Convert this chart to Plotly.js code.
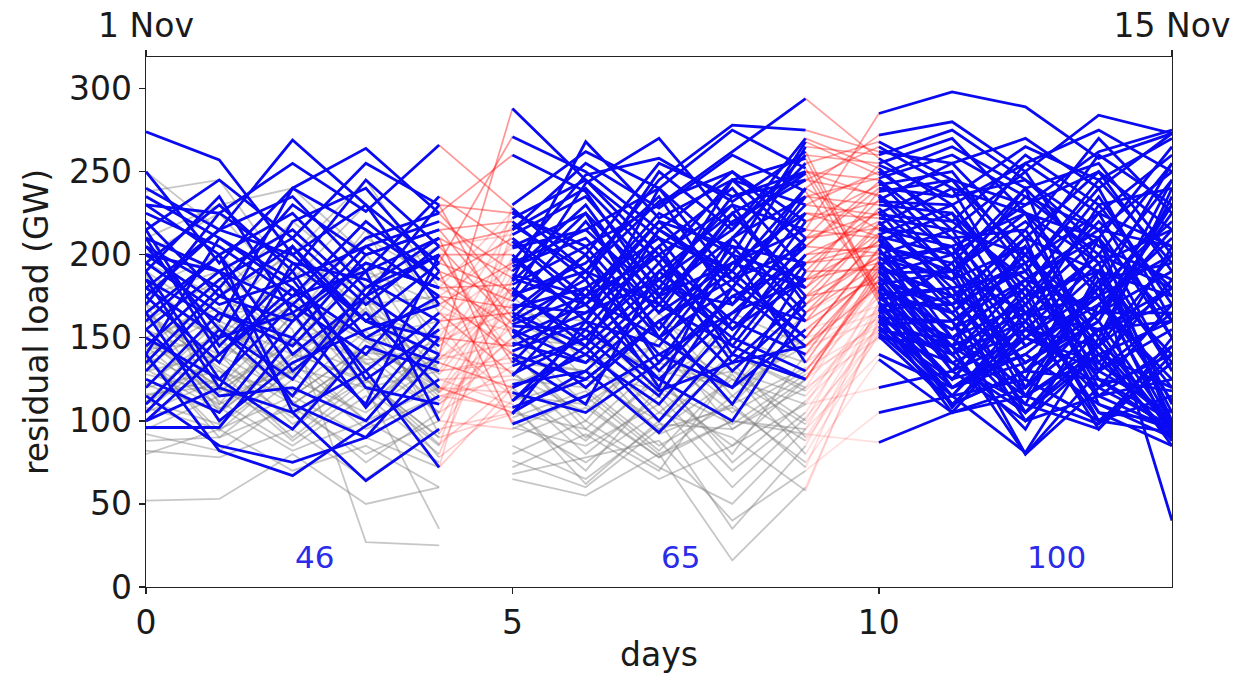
<!DOCTYPE html>
<html><head><meta charset="utf-8">
<script src="https://cdn.plot.ly/plotly-3.0.1.min.js"></script>
<style>html,body{margin:0;padding:0;background:#fff}#chart{width:1236px;height:674px}</style>
</head><body><div id="chart"></div>
<script>
const days = [0,1,2,3,4,5,6,7,8,9,10,11,12,13,14];
const dateTickDays = [0,14];
const dateLabels = ['1 Nov','15 Nov'];
const xTicks = [0,5,10];
const yTicks = [0,50,100,150,200,250,300];

// residual load (GW) per scenario, days 0-4
const week1Load = [
[274,257,200,160,140],[240,215,269,230,195],[250,195,240,264,225],[230,225,255,226,266],[215,245,210,255,230],
[205,180,230,200,215],[195,230,190,245,205],[185,160,240,215,185],[225,205,175,190,235],[210,190,215,175,200],
[175,215,200,230,170],[200,170,185,205,220],[165,200,225,180,210],[190,235,165,195,180],[220,175,205,160,195],
[155,190,170,210,225],[180,150,220,240,190],[235,210,180,150,175],[170,225,195,185,160],[195,165,150,200,215],
[145,185,210,170,205],[210,140,175,220,185],[160,200,140,175,230],[185,120,195,160,150],[130,175,160,205,175],
[205,155,125,180,200],[140,210,185,130,165],[175,135,205,150,135],[120,165,145,190,210],[200,190,130,165,120],
[150,125,170,140,190],[110,155,115,175,145],[215,145,190,125,155],[125,105,160,195,180],[100,140,180,120,110],
[165,100,135,155,170],[96,96,150,110,200],[190,125,95,145,130],[135,180,110,90,140],[115,85,75,90,115],
[100,120,105,130,72],[155,115,120,100,150],[140,82,67,97,125],[230,200,105,64,95],[105,150,165,108,160],
[180,215,235,190,100],[250,215,200,245,180],[238,245,185,230,165],[210,230,240,200,150],[195,175,220,185,205],
[180,200,160,215,140],[170,150,190,170,175],[160,185,145,195,130],[155,135,175,150,160],[150,168,128,182,118],
[122,152,163,134,148],[139,118,147,166,128],[163,132,102,141,137],[111,157,134,168,117],[147,121,163,108,148],
[134,158,126,173,92],[128,117,151,137,138],[139,163,172,148,117],[116,121,147,129,165],[143,148,118,154,112],
[131,107,141,123,137],[106,140,115,145,110],[138,94,132,120,130],[165,135,110,140,105],[122,105,138,172,125],
[130,140,98,125,86],[188,110,135,100,120],[115,125,95,130,78],[112,98,130,95,115],[120,130,90,125,90],
[108,95,115,90,72],[105,125,88,120,85],[92,82,112,75,105],[150,112,85,115,80],[88,90,108,80,100],
[145,108,82,100,75],[82,78,95,65,95],[80,95,70,85,60],[52,53,80,50,60],[160,140,170,120,35],
[175,190,155,27,25],[190,160,205,165,150],[200,225,175,210,185],[145,175,200,160,195],[135,110,165,190,170],
[165,130,115,145,120],[120,160,140,100,155],[185,145,125,175,130],[110,140,170,135,105],[150,120,95,150,115],
[130,175,150,110,140],[95,115,130,165,100],[170,105,140,125,90],[105,150,110,140,175],[140,90,125,105,135]
];

// days 5-9
const week2Load = [
[288,245,200,230,215],[271,250,215,190,240],[260,238,176,210,255],[228,190,245,278,275],[225,205,230,262,294],
[220,185,250,215,260],[215,240,195,245,230],[210,175,225,200,268],[205,225,180,235,250],[200,160,215,250,220],
[195,215,240,185,205],[190,230,170,220,245],[186,170,205,240,190],[182,205,155,210,235],[178,150,190,225,180],
[175,195,235,170,210],[172,220,165,195,225],[168,180,210,155,200],[165,145,185,230,170],[162,200,150,180,240],
[158,175,220,205,160],[155,135,175,195,215],[150,190,140,165,185],[145,165,200,145,200],[140,125,160,190,150],
[135,180,130,175,195],[128,150,195,135,175],[120,140,110,160,140],[112,155,125,100,165],[105,130,93,140,125],
[98,115,140,120,155],[180,150,130,120,165],[170,125,160,140,120],[160,140,110,165,145],[150,110,140,105,130],
[145,155,120,130,100],[140,100,150,95,125],[135,130,95,125,110],[130,90,125,80,140],[125,120,85,110,72],
[120,80,115,70,105],[115,110,78,100,95],[110,62,100,35,85],[105,95,70,130,115],[100,75,105,90,58],
[95,115,80,16,60],[226,200,255,235,245],[222,245,210,190,265],[218,190,232,250,210],[212,235,185,215,270],
[208,170,220,180,235],[204,215,175,245,205],[198,160,240,200,185],[193,210,165,225,250],[188,175,200,160,220],
[184,225,150,205,195],[180,145,215,185,230],[176,190,170,225,175],[170,165,185,150,210],[166,200,135,195,180],
[163,140,180,170,225],[160,185,120,210,165],[157,155,205,140,195],[154,120,160,185,150],[150,170,125,165,205],
[147,135,175,130,170],[142,160,145,200,135],[138,110,190,155,185],[133,150,115,180,145],[127,175,150,120,190],
[122,130,170,145,125],[117,105,135,175,160],[112,145,100,150,130],[108,125,160,110,175],[104,160,118,135,145],
[230,262,240,275,252],[215,255,228,260,238],[196,248,258,232,262],[185,268,222,245,258],[176,243,270,218,249],
[175,135,145,110,155],[165,160,125,150,135],[155,120,165,115,150],[150,145,105,140,118],[142,95,135,120,145],
[138,130,118,85,125],[128,105,150,125,98],[122,140,92,110,132],[118,88,128,75,112],[112,125,100,135,90],
[108,70,120,98,128],[102,118,82,128,80],[96,85,110,60,102],[90,108,78,115,88],[85,65,98,95,120],
[80,100,72,50,95],[76,60,95,108,75],[72,92,65,85,110],[68,78,88,40,70],[65,55,80,100,92]
];

// days 10-14
const week3Load = [
[285,298,289,258,273],[272,280,250,284,273],[268,245,230,262,275],[262,255,270,240,273],[258,230,255,275,250],
[255,270,225,210,265],[250,220,260,230,240],[248,265,240,255,200],[245,210,215,270,225],[242,250,195,225,260],
[240,235,245,205,185],[236,200,230,250,215],[233,255,210,190,245],[230,225,180,235,170],[228,190,235,215,205],
[225,245,200,160,230],[222,215,250,185,140],[220,180,190,245,195],[218,240,165,200,255],[215,205,225,175,120],
[212,230,175,220,180],[210,170,215,150,235],[208,225,155,195,100],[205,195,240,130,165],[203,160,185,210,95],
[200,215,145,170,210],[198,185,205,140,90],[196,150,170,225,150],[194,205,130,180,220],[192,175,195,120,97],
[190,140,160,200,130],[188,200,120,165,190],[186,165,210,110,95],[184,130,150,190,175],[182,190,115,145,85],
[180,155,180,100,115],[178,120,140,175,200],[176,180,105,155,92],[174,145,165,95,140],[172,110,130,160,245],
[170,170,100,140,88],[168,135,155,120,170],[166,195,120,185,40],[164,125,170,105,100],[162,160,80,130,155],
[160,115,81,150,95],[265,240,225,195,215],[260,275,245,215,250],[254,235,265,245,270],[252,215,200,260,230],
[246,260,235,200,180],[244,200,255,225,205],[238,245,190,240,160],[235,190,220,180,255],[232,230,170,210,130],
[226,175,210,250,190],[224,220,185,165,225],[219,185,240,195,110],[216,210,160,230,175],[213,165,200,145,240],
[211,200,145,175,98],[209,150,185,215,150],[206,190,225,135,185],[204,140,175,190,105],[201,185,135,165,215],
[199,160,195,115,125],[197,205,150,180,90],[195,130,180,145,200],[193,175,125,210,160],[191,145,205,125,94],
[189,190,165,155,180],[187,135,110,190,135],[185,170,190,130,205],[183,120,145,175,112],[181,155,200,150,96],
[179,108,160,115,145],[177,165,115,185,195],[175,140,185,125,100],[173,180,135,165,165],[171,125,175,105,85],
[169,150,105,140,120],[167,115,165,175,230],[165,175,125,100,93],[163,105,155,145,180],[161,145,80,120,140],
[160,120,135,160,97],[158,160,110,95,150],[157,110,150,130,105],[156,140,95,170,125],[155,125,140,110,90],
[154,150,120,155,160],[153,115,160,100,135],[152,135,105,145,95],[151,110,130,125,118],[150,145,115,98,145],
[140,120,150,135,100],[137,105,120,155,170],[120,130,100,115,95],[105,115,125,100,135],[87,105,115,140,160]
];

// scenarios selected (drawn blue) in each window
const selectedWeek1 = [0,1,2,3,4,5,6,7,8,9,10,11,12,13,14,15,16,17,18,19,20,21,22,23,24,25,26,27,28,29,30,31,32,33,34,35,36,37,38,39,40,41,42,43,44,45];
const selectedWeek2 = [0,1,2,3,4,5,6,7,8,9,10,11,12,13,14,15,16,17,18,19,20,21,22,23,24,25,26,27,28,29,30,
  46,47,48,49,50,51,52,53,54,55,56,57,58,59,60,61,62,63,64,65,66,67,68,69,70,71,72,73,74,75,76,77,78,79];
const selectedWeek3 = week3Load.map((_, i) => i);

const w1Days = days.slice(0,5), w2Days = days.slice(5,10), w3Days = days.slice(10,15);
const sel1 = new Set(selectedWeek1), sel2 = new Set(selectedWeek2);
const BLUE = 'rgb(10,10,242)';
const traces = [];

function addGrey(dArr, rows, sel) {
  rows.forEach((r, i) => {
    if (!sel.has(i)) traces.push({x: dArr, y: r, mode: 'lines', type: 'scatter',
      line: {color: 'rgba(128,128,128,0.45)', width: 1.8}, hoverinfo: 'skip', showlegend: false});
  });
}
addGrey(w1Days, week1Load, sel1);
addGrey(w2Days, week2Load, sel2);

// red transitions between windows
week1Load.forEach((r, i) => {
  const k = (sel1.has(i) ? 1 : 0) + (sel2.has(i) ? 1 : 0);
  if (k === 0) return;
  const a = [0, 0.22, 0.45][k];
  traces.push({x: [days[4], days[5]], y: [r[4], week2Load[i][0]], mode: 'lines', type: 'scatter',
    line: {color: 'rgba(255,20,20,' + a + ')', width: 1.7}, hoverinfo: 'skip', showlegend: false});
});
week2Load.forEach((r, i) => {
  const a = sel2.has(i) ? 0.42 : 0.14;
  traces.push({x: [days[9], days[10]], y: [r[4], week3Load[i][0]], mode: 'lines', type: 'scatter',
    line: {color: 'rgba(255,20,20,' + a + ')', width: 1.7}, hoverinfo: 'skip', showlegend: false});
});

function addBlue(dArr, rows, selList) {
  const x = [], y = [];
  selList.forEach(i => { x.push(...dArr, null); y.push(...rows[i], null); });
  traces.push({x, y, mode: 'lines', type: 'scatter', connectgaps: false,
    line: {color: BLUE, width: 2.8}, hoverinfo: 'skip', showlegend: false});
}
addBlue(w1Days, week1Load, selectedWeek1);
addBlue(w2Days, week2Load, selectedWeek2);
addBlue(w3Days, week3Load, selectedWeek3);

// carrier for the top date axis
traces.push({x: dateTickDays, y: [null, null], xaxis: 'x2', mode: 'lines', type: 'scatter', showlegend: false, hoverinfo: 'skip'});

const countLabels = [String(selectedWeek1.length), String(selectedWeek2.length), String(selectedWeek3.length)];
const labelDays = [days[2], days[7], days[12]];

const FONT = {family: 'DejaVu Sans, sans-serif', size: 33, color: '#1a1a1a'};
const layout = {
  width: 1236, height: 674,
  margin: {l: 146, r: 64, t: 57, b: 87},
  paper_bgcolor: '#fff', plot_bgcolor: '#fff',
  font: FONT,
  showlegend: false,
  hovermode: false,
  xaxis: {
    range: [0, 14], tickvals: xTicks, ticktext: xTicks.map(String),
    ticks: 'outside', ticklen: 6, tickwidth: 1.3, tickcolor: '#222',
    showline: true, linecolor: '#222', linewidth: 1.3, mirror: true,
    showgrid: false, zeroline: false, tickfont: FONT,
    title: {text: 'days', font: FONT, standoff: 6}
  },
  xaxis2: {
    overlaying: 'x', side: 'top', anchor: 'y', range: [0, 14],
    tickvals: dateTickDays, ticktext: dateLabels,
    ticks: 'outside', ticklen: 6, tickwidth: 1.3, tickcolor: '#222',
    showline: false, showgrid: false, zeroline: false, tickfont: FONT
  },
  yaxis: {
    range: [0, 319], tickvals: yTicks, ticktext: yTicks.map(String),
    ticks: 'outside', ticklen: 6, tickwidth: 1.3, tickcolor: '#222',
    showline: true, linecolor: '#222', linewidth: 1.3, mirror: true,
    showgrid: false, zeroline: false, tickfont: FONT,
    title: {text: 'residual load (GW)', font: FONT, standoff: 10}
  },
  annotations: countLabels.map((t, k) => ({
    x: labelDays[k], y: 18, xref: 'x', yref: 'y', text: t, showarrow: false,
    xanchor: 'left', yanchor: 'middle', font: {family: 'DejaVu Sans, sans-serif', size: 31, color: '#2b2be8'}
  }))
};

Plotly.newPlot('chart', traces, layout, {staticPlot: true, displayModeBar: false});
</script>
</body></html>
